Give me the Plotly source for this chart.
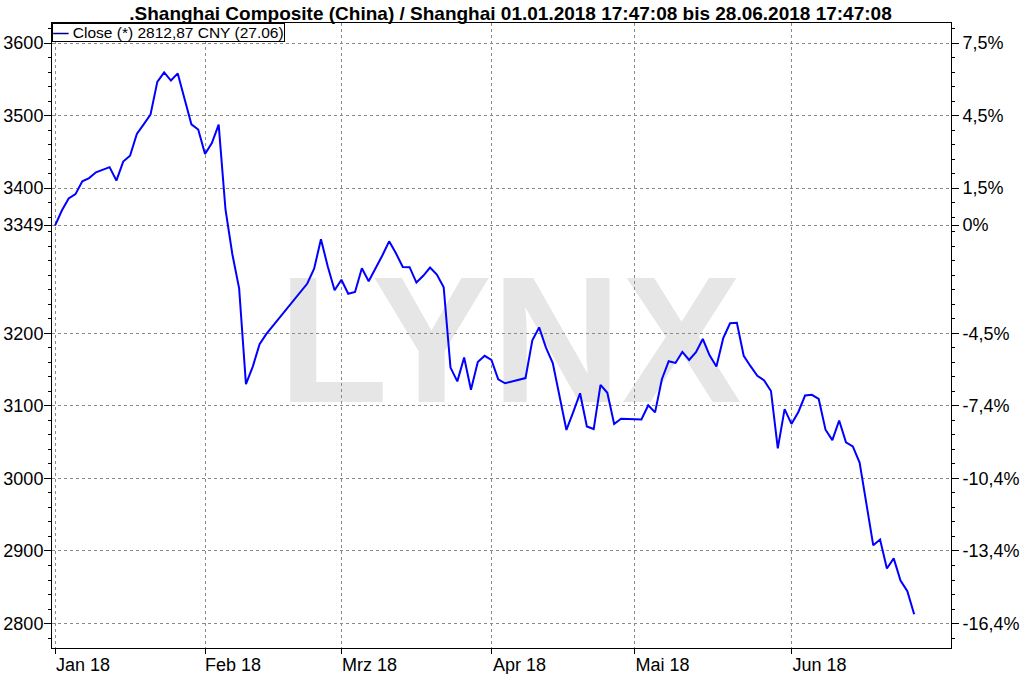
import plotly.graph_objects as go

# ---- data ----
dates = [
    "2018-01-02", "2018-01-03", "2018-01-04", "2018-01-05", "2018-01-08", "2018-01-09",
    "2018-01-10", "2018-01-11", "2018-01-12", "2018-01-15", "2018-01-16", "2018-01-17",
    "2018-01-18", "2018-01-19", "2018-01-22", "2018-01-23", "2018-01-24", "2018-01-25",
    "2018-01-26", "2018-01-29", "2018-01-30", "2018-01-31", "2018-02-01", "2018-02-02",
    "2018-02-05", "2018-02-06", "2018-02-07", "2018-02-08", "2018-02-09", "2018-02-12",
    "2018-02-13", "2018-02-14", "2018-02-22", "2018-02-23", "2018-02-26", "2018-02-27",
    "2018-02-28", "2018-03-01", "2018-03-02", "2018-03-05", "2018-03-06", "2018-03-07",
    "2018-03-08", "2018-03-09", "2018-03-12", "2018-03-13", "2018-03-14", "2018-03-15",
    "2018-03-16", "2018-03-19", "2018-03-20", "2018-03-21", "2018-03-22", "2018-03-23",
    "2018-03-26", "2018-03-27", "2018-03-28", "2018-03-29", "2018-03-30", "2018-04-02",
    "2018-04-03", "2018-04-04", "2018-04-09", "2018-04-10", "2018-04-11", "2018-04-12",
    "2018-04-13", "2018-04-16", "2018-04-17", "2018-04-18", "2018-04-19", "2018-04-20",
    "2018-04-23", "2018-04-24", "2018-04-25", "2018-04-26", "2018-04-27", "2018-05-02",
    "2018-05-03", "2018-05-04", "2018-05-07", "2018-05-08", "2018-05-09", "2018-05-10",
    "2018-05-11", "2018-05-14", "2018-05-15", "2018-05-16", "2018-05-17", "2018-05-18",
    "2018-05-21", "2018-05-22", "2018-05-23", "2018-05-24", "2018-05-25", "2018-05-28",
    "2018-05-29", "2018-05-30", "2018-05-31", "2018-06-01", "2018-06-04", "2018-06-05",
    "2018-06-06", "2018-06-07", "2018-06-08", "2018-06-11", "2018-06-12", "2018-06-13",
    "2018-06-14", "2018-06-15", "2018-06-19", "2018-06-20", "2018-06-21", "2018-06-22",
    "2018-06-25", "2018-06-26", "2018-06-27",
]
close = [
    3348.33, 3369.11, 3385.71, 3391.75, 3409.48, 3413.90,
    3421.83, 3425.34, 3428.94, 3410.49, 3436.59, 3444.67,
    3474.75, 3487.86, 3501.36, 3546.50, 3559.47, 3548.31,
    3558.13, 3523.00, 3488.01, 3480.83, 3446.98, 3462.08,
    3487.50, 3370.65, 3309.26, 3262.05, 3129.85, 3154.13,
    3184.96, 3199.16, 3268.56, 3289.02, 3329.57, 3292.07,
    3259.41, 3273.75, 3254.53, 3256.93, 3289.64, 3271.67,
    3288.41, 3307.17, 3326.70, 3310.24, 3291.38, 3291.11,
    3269.88, 3279.25, 3290.64, 3280.95, 3263.48, 3152.76,
    3133.72, 3166.65, 3122.29, 3160.53, 3168.90, 3163.18,
    3136.63, 3131.11, 3138.29, 3190.32, 3208.08, 3180.16,
    3159.05, 3110.65, 3066.80, 3091.40, 3117.38, 3071.54,
    3068.01, 3128.93, 3117.97, 3075.03, 3082.23, 3081.18,
    3100.86, 3091.03, 3136.64, 3161.50, 3159.15, 3174.41,
    3163.26, 3174.03, 3192.12, 3169.57, 3154.28, 3193.30,
    3213.84, 3214.35, 3168.96, 3154.65, 3141.30, 3135.08,
    3120.46, 3041.44, 3095.47, 3075.14, 3091.19, 3114.21,
    3115.18, 3109.50, 3067.15, 3052.78, 3079.80, 3049.80,
    3044.16, 3021.90, 2907.82, 2915.73, 2875.81, 2889.76,
    2859.34, 2844.51, 2812.87,
]

price_ticks = [2800, 2900, 3000, 3100, 3200, 3349, 3400, 3500, 3600]
price_tick_text = ["2800", "2900", "3000", "3100", "3200", "3349", "3400", "3500", "3600"]
pct_tick_text = ["-16,4%", "-13,4%", "-10,4%", "-7,4%", "-4,5%", "0%", "1,5%", "4,5%", "7,5%"]
month_ticks = ["2018-01-02", "2018-02-01", "2018-03-01", "2018-04-02", "2018-05-01", "2018-06-01"]
month_tick_text = ["Jan 18", "Feb 18", "Mrz 18", "Apr 18", "Mai 18", "Jun 18"]

title_text = ".Shanghai Composite (China) / Shanghai 01.01.2018 17:47:08 bis 28.06.2018 17:47:08"
legend_text = "Close (*) 2812,87 CNY (27.06)"
watermark = "LYNX"

# ---- styling ----
FONT = "Liberation Sans, Arial, sans-serif"
GRID = "#8a8a8a"
y_range = [2766.3, 3627.6]
x_range = ["2018-01-01 13:20", "2018-07-04 09:40"]
minor_vals = list(range(2780, 3621, 20))

fig = go.Figure()
fig.add_trace(go.Scatter(
    x=dates, y=close, mode="lines", name=legend_text,
    line=dict(color="#0000ff", width=2), showlegend=False,
))
# invisible copy so the right (percentage) axis is drawn
fig.add_trace(go.Scatter(
    x=dates, y=close, mode="lines", yaxis="y2", showlegend=False,
    line=dict(color="rgba(0,0,0,0)", width=0), hoverinfo="skip",
))

axis_font = dict(family=FONT, size=18, color="black")

fig.update_layout(
    width=1021, height=674, autosize=False,
    margin=dict(l=52, r=70, t=23, b=26, autoexpand=False),
    paper_bgcolor="white", plot_bgcolor="white",
    font=dict(family=FONT, color="black"),
    title=dict(
        text=title_text, x=0.5, xanchor="center", xref="container",
        y=1 - 13 / 674, yanchor="middle", yref="container",
        font=dict(family=FONT, size=19, color="black", weight="bold"),
    ),
    xaxis=dict(
        type="date", range=x_range, automargin=False,
        rangebreaks=[dict(bounds=["sat", "mon"])],
        tickmode="array", tickvals=month_ticks, ticktext=month_tick_text,
        ticks="outside", ticklen=5, tickcolor="black", tickwidth=1,
        ticklabelshift=28, ticklabelstandoff=-5,
        tickfont=axis_font,
        showline=True, linecolor="black", linewidth=1, mirror=True,
        showgrid=True, gridcolor=GRID, gridwidth=1, griddash="3px,3px",
        zeroline=False,
    ),
    yaxis=dict(
        range=y_range, automargin=False,
        tickmode="array", tickvals=price_ticks, ticktext=price_tick_text,
        ticks="outside", ticklen=7, tickcolor="black", tickwidth=1,
        ticklabelstandoff=-3,
        tickfont=axis_font,
        minor=dict(tickmode="array", tickvals=minor_vals, ticks="outside",
                   ticklen=3, tickcolor="black", showgrid=False),
        showline=True, linecolor="black", linewidth=1,
        showgrid=True, gridcolor=GRID, gridwidth=1, griddash="3px,3px",
        zeroline=False,
    ),
    yaxis2=dict(
        range=y_range, overlaying="y", side="right", anchor="x", automargin=False,
        tickmode="array", tickvals=price_ticks, ticktext=pct_tick_text,
        ticks="outside", ticklen=7, tickcolor="black", tickwidth=1,
        tickfont=axis_font,
        minor=dict(tickmode="array", tickvals=minor_vals, ticks="outside",
                   ticklen=3, tickcolor="black", showgrid=False),
        showline=True, linecolor="black", linewidth=1,
        showgrid=False, zeroline=False,
    ),
    shapes=[dict(
        type="rect", xref="paper", yref="paper",
        x0=0.2647, x1=0.754, y0=0.374, y1=0.668,
        line=dict(width=0), fillcolor="rgba(0,0,0,0)", layer="below",
        label=dict(text=watermark, textposition="middle center",
                   font=dict(family="Liberation Sans Narrow, Liberation Sans, Arial, sans-serif",
                             size=180, color="#e6e6e6", weight="bold")),
    )],
    annotations=[dict(
        text="<span style='color:#00007f'><b>—</b></span> " + legend_text,
        x=0, y=1, xref="paper", yref="paper", xanchor="left", yanchor="top",
        showarrow=False, align="left",
        font=dict(family=FONT, size=15.5, color="black"),
        bordercolor="black", borderwidth=1, borderpad=0, bgcolor="white",
    )],
)

fig.write_html("out.html", config={"displayModeBar": False},
               post_script="document.body.style.margin='0';document.body.style.overflow='hidden';")
